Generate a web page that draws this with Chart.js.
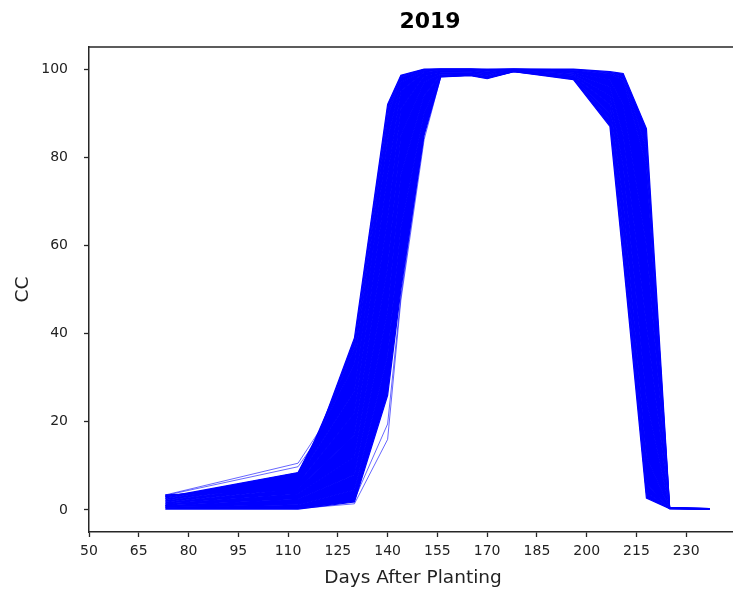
<!DOCTYPE html>
<html>
<head>
<meta charset="utf-8">
<script src="https://cdn.jsdelivr.net/npm/chart.js@4/dist/chart.umd.min.js"></script>
<style>
  html, body { margin: 0; padding: 0; background: #fff; overflow: hidden; }
  #wrap { width: 733px; height: 592px; overflow: hidden; position: relative; }
  #fig { width: 860px; height: 592px; position: absolute; left: 0; top: 0; }
</style>
</head>
<body>
<div id="wrap"><div id="fig"><canvas id="cc"></canvas></div></div>
<script>
// Sampling days (days after planting) shared by every simulated member
const days = [73, 113, 130, 140, 144, 151, 156, 165, 170, 178, 196, 207, 211, 218, 225, 237];

// Canopy cover (%) of the ensemble members forming the main band
const member1  = [3.4, 4.5, 39.0, 92.0, 98.6, 100, 100, 100, 100, 100, 100, 99.4, 99.0, 86.5, 0.6, 0.3];
const member2  = [3.1, 7.0, 36.5, 90.5, 98.3, 99.9, 100, 100, 99.9, 100, 99.8, 99.1, 98.3, 82.0, 0.5, 0.3];
const member3  = [2.9, 8.5, 33.0, 89.0, 98.0, 99.8, 100, 100, 99.8, 100, 99.6, 98.8, 97.5, 78.0, 0.5, 0.3];
const member4  = [2.6, 7.2, 27.0, 84.0, 97.0, 99.6, 99.8, 99.7, 99.5, 99.9, 99.3, 97.5, 92.0, 60.0, 0.5, 0.2];
const member5  = [2.2, 6.0, 22.0, 76.0, 95.0, 99.2, 99.6, 99.5, 99.2, 99.8, 99.0, 96.0, 85.0, 42.0, 0.4, 0.2];
const member6  = [1.8, 4.8, 17.0, 66.0, 91.0, 98.5, 99.3, 99.3, 98.9, 99.7, 98.7, 94.0, 78.0, 25.0, 0.4, 0.2];
const member7  = [1.4, 3.6, 12.0, 55.0, 85.0, 97.0, 99.0, 99.0, 98.6, 99.6, 98.4, 92.0, 70.0, 12.0, 0.4, 0.2];
const member8  = [1.0, 2.4, 8.0, 45.0, 76.0, 94.0, 98.7, 98.8, 98.3, 99.5, 98.1, 90.0, 64.0, 6.0, 0.3, 0.2];
const member9  = [0.6, 1.2, 4.5, 35.0, 64.0, 90.0, 98.4, 98.6, 98.0, 99.4, 97.9, 88.5, 60.0, 4.0, 0.3, 0.2];
const member10 = [0.2, 0.2, 1.8, 26.0, 50.0, 85.0, 98.2, 98.5, 97.8, 99.4, 97.6, 87.0, 57.0, 2.7, 0.3, 0.2];

// Members that stand apart from the band (fast early growth / late emergence)
const early1 = [3.4, 10.6, 30.0, 86.0, 97.5, 99.8, 100, 100, 99.7, 100, 99.5, 98.0, 94.0, 70.0, 0.5, 0.3];
const early2 = [3.3, 9.8, 28.0, 82.0, 96.5, 99.5, 99.9, 99.8, 99.6, 99.9, 99.4, 97.8, 93.0, 65.0, 0.5, 0.3];
const late1  = [0.8, 0.3, 1.4, 16.0, 47.6, 84.0, 98.2, 98.6, 98.0, 99.4, 98.0, 89.0, 62.0, 5.0, 0.3, 0.2];
const late2  = [1.0, 0.5, 2.4, 19.5, 48.5, 86.0, 98.3, 98.7, 98.1, 99.5, 98.2, 90.0, 66.0, 7.0, 0.3, 0.2];

// Axis ticks
const xTicks = [50, 65, 80, 95, 110, 125, 140, 155, 170, 185, 200, 215, 230];
const yTicks = [0, 20, 40, 60, 80, 100];

const blue = 'rgb(0,0,255)';
const blueLine = 'rgba(0,0,255,0.6)';

const toPoints = vals => vals.map((v, i) => ({ x: days[i], y: v }));

const bandMembers = [member1, member2, member3, member4, member5, member6, member7, member8, member9, member10];
const loneMembers = [early1, early2, late1, late2];

const datasets = [];
bandMembers.forEach((vals, i) => {
  datasets.push({
    data: toPoints(vals),
    borderColor: blue,
    backgroundColor: blue,
    borderWidth: 1.2,
    pointRadius: 0,
    tension: 0,
    fill: i === 0 ? false : '-1'
  });
});
loneMembers.forEach(vals => {
  datasets.push({
    data: toPoints(vals),
    borderColor: blueLine,
    borderWidth: 1,
    pointRadius: 0,
    tension: 0,
    fill: false
  });
});

// Top spine, and the title centred on the whole figure width
const frame = {
  id: 'frame',
  afterLayout(chart) {
    const t = chart.titleBlock;
    if (t) { t.left = 0; t.right = chart.width; t.width = chart.width; }
  },
  afterDatasetsDraw(chart) {
    const { ctx, chartArea: a } = chart;
    ctx.save();
    ctx.strokeStyle = '#262626';
    ctx.lineWidth = 1.5;
    ctx.beginPath();
    ctx.moveTo(a.left, a.top);
    ctx.lineTo(a.right, a.top);
    ctx.stroke();
    ctx.restore();
  }
};

const tickFont = { family: '"DejaVu Sans", sans-serif', size: 14 };
const labelFont = { family: '"DejaVu Sans", sans-serif', size: 18.5 };

new Chart(document.getElementById('cc'), {
  type: 'line',
  data: { datasets },
  plugins: [frame],
  options: {
    responsive: true,
    maintainAspectRatio: false,
    animation: false,
    events: [],
    layout: { padding: { left: 0, right: 123, top: 0, bottom: 0 } },
    plugins: {
      legend: { display: false },
      tooltip: { enabled: false },
      title: {
        display: true,
        text: '2019',
        color: '#000',
        font: { family: '"DejaVu Sans", sans-serif', size: 22, weight: 'bold', lineHeight: 1.2 },
        padding: { top: 9, bottom: 11.6 }
      }
    },
    scales: {
      x: {
        type: 'linear',
        min: 50,
        max: 245.3,
        afterBuildTicks: s => { s.ticks = xTicks.map(v => ({ value: v })); },
        afterFit: s => { s.height = 60; },
        grid: { drawOnChartArea: false, drawTicks: true, tickLength: 5, tickWidth: 1.3, tickColor: '#262626' },
        border: { display: true, color: '#262626', width: 1.5 },
        ticks: { color: '#222', font: tickFont, padding: 6, maxRotation: 0, autoSkip: false },
        title: {
          display: true, text: 'Days After Planting', color: '#222', font: labelFont,
          padding: { top: 0, bottom: 2.5 }
        }
      },
      y: {
        type: 'linear',
        min: -5,
        max: 105,
        afterBuildTicks: s => { s.ticks = yTicks.map(v => ({ value: v })); },
        afterFit: s => { s.width = 89; },
        grid: { drawOnChartArea: false, drawTicks: true, tickLength: 5, tickWidth: 1.3, tickColor: '#262626' },
        border: { display: true, color: '#262626', width: 1.5 },
        ticks: { color: '#222', font: tickFont, padding: 16, autoSkip: false },
        title: {
          display: true, text: 'CC', color: '#222', font: labelFont,
          padding: { top: 12, bottom: 0 }
        }
      }
    }
  }
});
</script>
</body>
</html>
